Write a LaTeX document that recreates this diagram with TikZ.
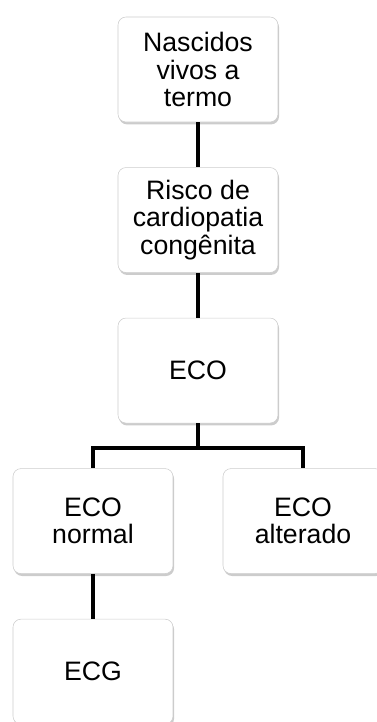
\documentclass[tikz,border=0pt]{standalone}
\usepackage{fontspec}
\setmainfont{Liberation Sans}
\usetikzlibrary{positioning, shadows}
\tikzstyle{box} = [rectangle, rounded corners=6pt, minimum width=120pt, minimum height=78.75pt, text centered, align=center, draw=gray!40, fill=white, font=\fontsize{20}{20.5}\selectfont, drop shadow={shadow xshift=0.8pt, shadow yshift=-1.8pt, opacity=0.4}]
\tikzstyle{link} = [line width=3pt, black]

\begin{document}
\begin{tikzpicture}[node distance=33.75pt]
\useasboundingbox (-148.5pt,52.125pt) rectangle (134.25pt,-489.375pt);
\node (born) [box] {Nascidos\\vivos a\\termo};
\node (risk) [box, below=of born] {Risco de\\cardiopatia\\congênita};
\node (eco) [box, below=of risk] {ECO};
\node (normal) [box, below=of eco, xshift=-78.75pt] {ECO\\normal};
\node (altered) [box, below=of eco, xshift=78.75pt] {ECO\\alterado};
\node (ecg) [box, below=of normal] {ECG};
\draw [link] (born) -- (risk);
\draw [link] (risk) -- (eco);
\draw [link] (eco.south) -- ++(0,-18.75pt) -| (normal.north);
\draw [link] (eco.south) -- ++(0,-18.75pt) -| (altered.north);
\draw [link] (normal) -- (ecg);
\end{tikzpicture}
\end{document}
